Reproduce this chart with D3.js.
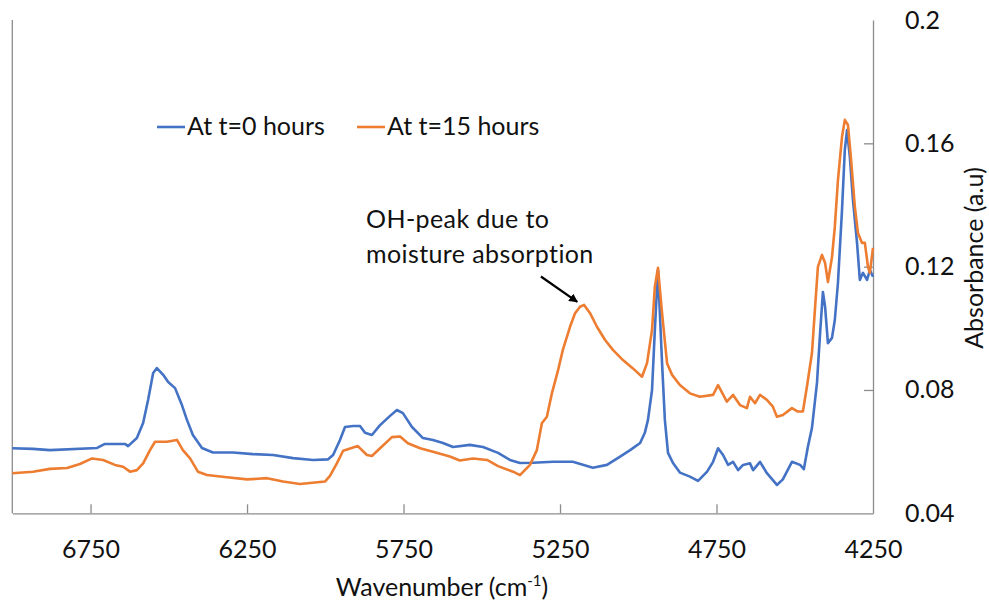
<!DOCTYPE html>
<html>
<head>
<meta charset="utf-8">
<script src="https://cdn.jsdelivr.net/npm/d3@7"></script>
<style>
  body { margin: 0; background: #fff; }
  svg text { font-family: Lato, "Open Sans", sans-serif; fill: #111; }
</style>
</head>
<body>
<div class="canvas"></div>
<script>
// spectra (wavenumber in cm-1, absorbance in a.u)
const wave0 = [7000,6934,6880,6729,6704,6640,6630,6602,6582,6566,6550,6538,6518,6502,6480,6458,6442,6423,6394,6359,6295,6231,6167,6103,6039,5991,5975,5953,5937,5911,5889,5873,5851,5825,5793,5771,5752,5723,5688,5656,5624,5592,5538,5496,5448,5410,5378,5336,5272,5209,5145,5100,5058,5026,4994,4979,4969,4956,4947,4937,4924,4915,4905,4889,4867,4835,4809,4780,4761,4745,4729,4713,4697,4681,4665,4643,4633,4611,4589,4557,4538,4509,4483,4471,4458,4445,4429,4419,4410,4403,4394,4381,4372,4362,4349,4340,4333,4324,4314,4301,4292,4282,4269,4260,4250];
const abs0 = [0.0611,0.0609,0.0605,0.0612,0.0625,0.0625,0.0618,0.0644,0.0693,0.0768,0.0855,0.0871,0.0849,0.0826,0.0806,0.0751,0.0703,0.0654,0.0612,0.0597,0.0597,0.0592,0.0589,0.0579,0.0573,0.0575,0.0589,0.0638,0.0680,0.0683,0.0683,0.0661,0.0654,0.0686,0.0716,0.0735,0.0725,0.0680,0.0644,0.0638,0.0628,0.0615,0.0622,0.0615,0.0596,0.0573,0.0563,0.0564,0.0567,0.0567,0.0548,0.0557,0.0584,0.0605,0.0628,0.0661,0.0703,0.0800,0.0995,0.1189,0.0888,0.0703,0.0596,0.0563,0.0532,0.0519,0.0505,0.0535,0.0567,0.0611,0.0589,0.0557,0.0567,0.0540,0.0557,0.0562,0.0540,0.0567,0.0530,0.0492,0.0510,0.0567,0.0557,0.0543,0.0616,0.0677,0.0823,0.0985,0.1118,0.1069,0.0952,0.0969,0.1027,0.1147,0.1384,0.1579,0.1643,0.1556,0.1416,0.1277,0.1157,0.1180,0.1157,0.1189,0.1167];

const wave15 = [7000,6934,6880,6825,6784,6745,6710,6672,6646,6624,6602,6582,6560,6544,6506,6474,6455,6432,6407,6378,6314,6250,6186,6135,6081,6001,5985,5963,5943,5896,5867,5851,5825,5787,5761,5736,5697,5656,5602,5570,5528,5483,5448,5400,5378,5346,5324,5308,5292,5276,5256,5241,5218,5202,5186,5173,5154,5132,5106,5081,5049,5017,4988,4972,4956,4947,4937,4924,4908,4892,4867,4835,4803,4761,4745,4717,4697,4675,4653,4643,4627,4611,4589,4570,4557,4538,4509,4490,4474,4461,4445,4435,4426,4413,4403,4394,4381,4372,4362,4349,4340,4330,4320,4308,4298,4285,4276,4266,4260,4250];
const abs15 = [0.0530,0.0535,0.0544,0.0547,0.0560,0.0578,0.0573,0.0557,0.0551,0.0535,0.0540,0.0562,0.0605,0.0632,0.0632,0.0638,0.0605,0.0578,0.0535,0.0524,0.0517,0.0510,0.0514,0.0503,0.0495,0.0503,0.0521,0.0562,0.0603,0.0618,0.0589,0.0586,0.0611,0.0647,0.0649,0.0627,0.0611,0.0600,0.0584,0.0571,0.0578,0.0573,0.0553,0.0535,0.0524,0.0557,0.0605,0.0692,0.0713,0.0789,0.0865,0.0930,0.1005,0.1049,0.1070,0.1076,0.1049,0.1005,0.0962,0.0930,0.0897,0.0870,0.0843,0.0887,0.0995,0.1135,0.1196,0.1049,0.0887,0.0849,0.0816,0.0789,0.0778,0.0784,0.0816,0.0762,0.0784,0.0751,0.0741,0.0778,0.0757,0.0784,0.0768,0.0746,0.0713,0.0719,0.0741,0.0730,0.0730,0.0811,0.0920,0.1069,0.1199,0.1238,0.1212,0.1150,0.1231,0.1329,0.1481,0.1621,0.1676,0.1660,0.1546,0.1394,0.1309,0.1277,0.1277,0.1199,0.1180,0.1261];

const xTicks = [6750,6250,5750,5250,4750,4250];
const yTicks = [0.04,0.08,0.12,0.16,0.2];
const seriesNames = ['At t=0 hours','At t=15 hours'];
const seriesColors = ['#4472C4','#ED7D31'];
const noteLines = ['OH-peak due to','moisture absorption'];

const dims = {width:989, height:603};
const plot = {left:12.3, right:873, top:20, bottom:513.3};

const svg = d3.select('.canvas')
  .append('svg')
  .attr('width', dims.width)
  .attr('height', dims.height);

const x = d3.scaleLinear().domain([7000,4250]).range([plot.left, plot.right]);
const y = d3.scaleLinear().domain([0.04,0.2]).range([plot.bottom, plot.top]);

const fontSize = 25;
const axisColor = '#8c8c8c';

// left border of the plot area
svg.append('line')
  .attr('x1', plot.left).attr('x2', plot.left)
  .attr('y1', plot.top).attr('y2', plot.bottom)
  .attr('stroke', axisColor).attr('stroke-width', 1.3);

// bottom axis, ticks pointing inward
const xAxis = d3.axisBottom(x)
  .tickValues(xTicks)
  .tickSizeInner(-9)
  .tickSizeOuter(0)
  .tickPadding(27)
  .tickFormat(d3.format('d'));

const gx = svg.append('g')
  .attr('transform', `translate(0,${plot.bottom})`)
  .call(xAxis);

// right axis
const yAxis = d3.axisRight(y)
  .tickValues(yTicks)
  .tickSizeInner(-9)
  .tickSizeOuter(0)
  .tickPadding(32)
  .tickFormat(d => d3.format('.2~f')(d));

const gy = svg.append('g')
  .attr('transform', `translate(${plot.right},0)`)
  .call(yAxis);

[gx, gy].forEach(g => {
  g.select('.domain').attr('stroke', axisColor).attr('stroke-width', 1.3);
  g.selectAll('.tick line').attr('stroke', axisColor).attr('stroke-width', 1.3);
  g.selectAll('.tick text')
    .attr('font-size', fontSize)
    .attr('font-family', 'Lato, sans-serif')
    .attr('fill', '#111');
});
// no tick marks at the corners
gx.selectAll('.tick line').filter(d => d === 4250).remove();
gy.selectAll('.tick line').filter(d => d === 0.04 || d === 0.2).remove();

// series
const line = d3.line()
  .x(d => x(d[0]))
  .y(d => y(d[1]));

const series = [
  d3.zip(wave0, abs0),
  d3.zip(wave15, abs15)
];

svg.append('g')
  .selectAll('path')
  .data(series)
  .enter().append('path')
  .attr('d', line)
  .attr('fill', 'none')
  .attr('stroke', (d,i) => seriesColors[i])
  .attr('stroke-width', 2.6)
  .attr('stroke-linejoin', 'round');

// legend
const legendItems = [
  {name: seriesNames[0], color: seriesColors[0], x: 157},
  {name: seriesNames[1], color: seriesColors[1], x: 357}
];
const legend = svg.append('g').attr('transform', 'translate(0,127)');
legend.selectAll('line')
  .data(legendItems)
  .enter().append('line')
  .attr('x1', d => d.x).attr('x2', d => d.x + 28)
  .attr('y1', 0).attr('y2', 0)
  .attr('stroke', d => d.color)
  .attr('stroke-width', 2.6);
legend.selectAll('text')
  .data(legendItems)
  .enter().append('text')
  .attr('x', d => d.x + 30)
  .attr('y', 8)
  .attr('font-size', fontSize)
  .text(d => d.name);

// annotation with arrow to the OH peak
svg.append('defs').append('marker')
  .attr('id', 'arrow')
  .attr('viewBox', '0 0 10 10')
  .attr('refX', 9).attr('refY', 5)
  .attr('markerWidth', 4).attr('markerHeight', 4)
  .attr('orient', 'auto')
  .append('path')
  .attr('d', 'M0,0L10,5L0,10z')
  .attr('fill', '#000');

svg.append('line')
  .attr('x1', x(5311)).attr('y1', y(0.1168))
  .attr('x2', x(5195)).attr('y2', y(0.1086))
  .attr('stroke', '#000')
  .attr('stroke-width', 2.2)
  .attr('marker-end', 'url(#arrow)');

svg.append('text')
  .attr('font-size', fontSize)
  .attr('letter-spacing', 0.4)
  .selectAll('tspan')
  .data(noteLines)
  .enter().append('tspan')
  .attr('x', 366)
  .attr('y', (d,i) => 228 + i*35)
  .text(d => d);

// axis titles
const xTitle = svg.append('text')
  .attr('x', 442)
  .attr('y', 596)
  .attr('text-anchor', 'middle')
  .attr('font-size', fontSize);
xTitle.append('tspan').text('Wavenumber (cm');
xTitle.append('tspan').attr('font-size', 15).attr('dy', -10).text('-1');
xTitle.append('tspan').attr('dy', 10).text(')');

svg.append('text')
  .attr('transform', 'translate(983,258) rotate(-90)')
  .attr('text-anchor', 'middle')
  .attr('font-size', fontSize)
  .text('Absorbance (a.u)');
</script>
</body>
</html>
